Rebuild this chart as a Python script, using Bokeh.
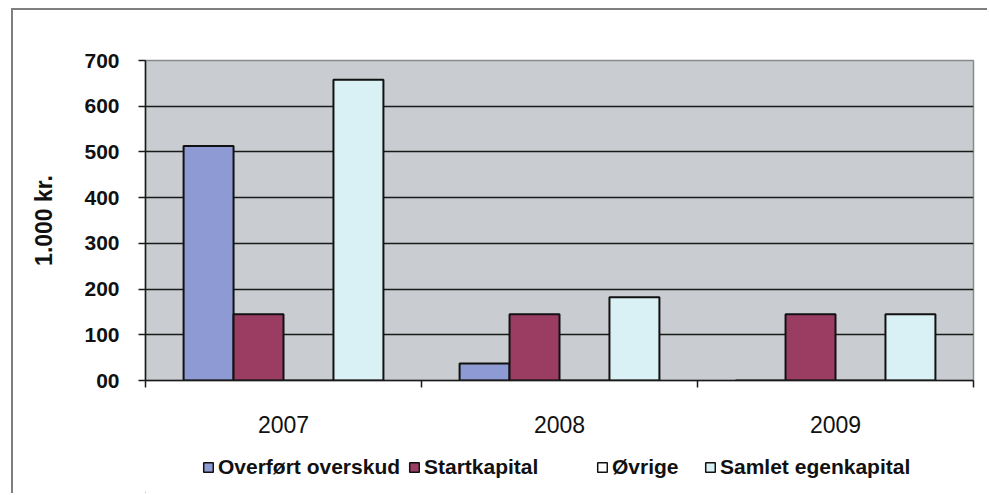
from bokeh.plotting import figure
from bokeh.models import Range1d, FixedTicker, Legend, LegendItem
from bokeh.layouts import column
from bokeh.embed import file_html
from bokeh.resources import INLINE

# ---- data ----
years = ["2007", "2008", "2009"]
overfoert = [513, 37, 0]
startkapital = [145, 145, 145]
oevrige = [0, 0, 0]
samlet = [658, 182, 145]
series_names = ["Overført overskud", "Startkapital", "Øvrige", "Samlet egenkapital"]
y_ticks = [0, 100, 200, 300, 400, 500, 600, 700]
y_tick_labels = ["00", "100", "200", "300", "400", "500", "600", "700"]

colors = ["#8e9ad3", "#9b3d63", "#ffffff", "#d9f0f4"]
FONT = "Liberation Sans"

W = 974
H1 = 435
H2 = 48
p = figure(width=W, height=H1, output_backend="svg", toolbar_location=None,
           x_range=Range1d(0, len(years)), y_range=Range1d(0, 700),
           min_border_left=132, min_border_right=14, min_border_top=50,
           min_border_bottom=65)
p.background_fill_color = "#c9ccd1"
p.border_fill_color = "white"
p.outline_line_color = "#8a8a8a"
p.outline_line_width = 1.5

bar_w = 0.181
offsets = [-1.5 * bar_w, -0.5 * bar_w, 0.5 * bar_w, 1.5 * bar_w]
for vals, off, col in zip([overfoert, startkapital, oevrige, samlet], offsets, colors):
    xs = [i + 0.5 + off for i in range(len(years))]
    p.vbar(x=xs, top=vals, bottom=0, width=bar_w, fill_color=col,
           line_color="#111111", line_width=2)

# grid
p.xgrid.visible = False
p.ygrid.ticker = FixedTicker(ticks=y_ticks[1:-1])
p.ygrid.grid_line_color = "#1a1a1a"
p.ygrid.grid_line_width = 1.5

# y axis
yax = p.yaxis[0]
yax.ticker = FixedTicker(ticks=y_ticks)
yax.major_label_overrides = {t: l for t, l in zip(y_ticks, y_tick_labels)}
yax.minor_tick_line_color = None
yax.major_tick_out = 7
yax.major_tick_in = 0
yax.major_tick_line_width = 1.5
yax.axis_line_width = 1.5
yax.axis_line_color = "#1a1a1a"
yax.major_tick_line_color = "#1a1a1a"
yax.major_label_text_font = FONT
yax.major_label_text_font_style = "bold"
yax.major_label_text_font_size = "21px"
yax.major_label_text_color = "#111111"
yax.major_label_standoff = 19
yax.axis_label = "1.000 kr."
yax.axis_label_text_font = FONT
yax.axis_label_text_font_style = "bold"
yax.axis_label_text_font_size = "23px"
yax.axis_label_text_color = "#111111"
yax.axis_label_standoff = 24

# x axis: labels at category centres, ticks at boundaries
xax = p.xaxis[0]
xax.ticker = FixedTicker(ticks=[i + 0.5 for i in range(len(years))],
                         minor_ticks=list(range(len(years) + 1)))
xax.major_label_overrides = {i + 0.5: y for i, y in enumerate(years)}
xax.major_tick_out = 0
xax.major_tick_in = 0
xax.minor_tick_out = 7
xax.minor_tick_in = 0
xax.minor_tick_line_width = 1.5
xax.minor_tick_line_color = "#1a1a1a"
xax.axis_line_width = 1.5
xax.axis_line_color = "#1a1a1a"
xax.major_label_text_font = FONT
xax.major_label_text_font_size = "23px"
xax.major_label_text_color = "#111111"
xax.major_label_standoff = 28

# legend strip below the chart (its frame is aligned with the chart's frame)
p2 = figure(width=W, height=H2, output_backend="svg", toolbar_location=None,
            x_range=Range1d(0, 10), y_range=Range1d(0, 10), min_border=0)
p2.axis.visible = False
p2.grid.visible = False
p2.outline_line_color = None
p2.background_fill_color = "white"
p2.border_fill_color = "white"

legend_x = [57, 263, 451, 559]
for name, col, lx in zip(series_names, colors, legend_x):
    proxy = p2.vbar(x=[-100], top=[-100], bottom=[-101], width=1, fill_color=col,
                    line_color="#111111", line_width=1.5)
    lg = Legend(items=[LegendItem(label=name, renderers=[proxy])],
                location=(lx, 14), orientation="horizontal",
                glyph_width=12, glyph_height=12, label_standoff=4,
                padding=0, margin=0, border_line_color=None,
                background_fill_alpha=0,
                label_text_font=FONT, label_text_font_style="bold",
                label_text_font_size="21px", label_text_color="#111111")
    p2.add_layout(lg, "center")

layout = column(p, p2, spacing=0)
layout.styles = {"margin-left": "11px", "margin-top": "8px",
                 "border-left": "2px solid #7f7f7f",
                 "border-top": "2px solid #7f7f7f"}

open("out.html", "w").write(file_html(layout, INLINE))
